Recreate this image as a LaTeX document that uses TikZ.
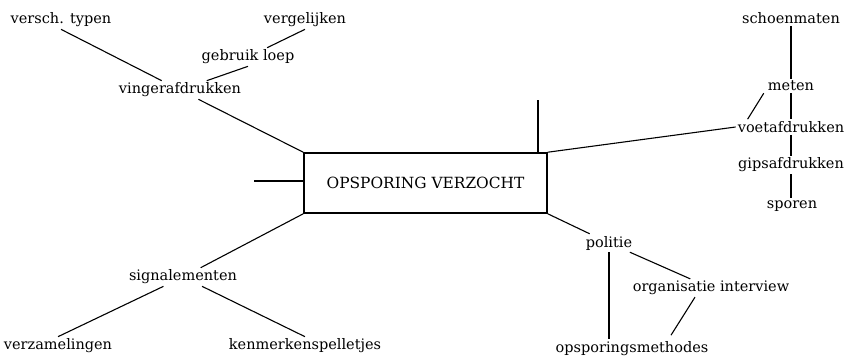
\documentclass[tikz,border=0pt]{standalone}
\usepackage{fontspec}
\setmainfont{DejaVu Serif}
\usepackage{tikz}
\usetikzlibrary{positioning}

\begin{document}
\begin{tikzpicture}[
    x=1pt, y=-1pt,
    topic/.style={rectangle, draw=black, line width=1.6pt, minimum width=243pt, minimum height=60pt, font=\fontsize{15.4}{17}\selectfont},
    item/.style={inner sep=2pt, font=\fontsize{14.5}{16}\selectfont},
    line/.style={line width=1.1pt, draw=black}
]
\useasboundingbox (0,0) rectangle (849,357);

% Centre
\node[topic] (opsporing) at (425.5,183) {OPSPORING VERZOCHT};
\coordinate (stubleft) at (254,181);
\coordinate (stubtop) at (538,100);

% Upper left branch
\node[item] (vinger) at (180,90) {vingerafdrukken};
\node[item] (versch) at (61,20) {versch. typen};
\node[item] (loep) at (248,57) {gebruik loep};
\node[item] (vergelijken) at (305,20) {vergelijken};

% Right branch
\node[item] (voet) at (791,127) {voetafdrukken};
\node[item] (schoen) at (791,18) {schoenmaten};
\node[item] (meten) at (791,86) {meten};
\node[item] (gips) at (791,165) {gipsafdrukken};
\node[item] (sporen) at (792,206) {sporen};

% Lower left branch
\node[item] (signal) at (183,277) {signalementen};
\node[item] (verzamel) at (58,346) {verzamelingen};
\node[item] (kenmerk) at (305,346) {kenmerkenspelletjes};

% Lower right branch
\node[item] (politie) at (609,243) {politie};
\node[item] (interview) at (711,288) {organisatie interview};
\node[item] (methodes) at (632,348.5) {opsporingsmethodes};

% Connections
\draw[line] (stubleft) -- (stubleft -| opsporing.west);
\draw[line] (stubtop) -- (stubtop |- opsporing.north);
\draw[line] (opsporing.north west) -- (vinger);
\draw[line] (versch.south) -- (vinger);
\draw[line] (loep.south) -- (vinger);
\draw[line] (vergelijken.south) -- (loep);
\draw[line] (opsporing.north east) -- (voet.west);
\draw[line] (schoen) -- (meten);
\draw[line] (meten) -- (voet);
\draw[line] ([xshift=-2pt]meten.south west) -- ([xshift=12pt]voet.north west);
\draw[line] (voet) -- (gips);
\draw[line] (gips) -- (sporen.north -| gips);
\draw[line] (opsporing.south west) -- (signal);
\draw[line] (signal) -- (verzamel.north);
\draw[line] (signal) -- (kenmerk.north);
\draw[line] (opsporing.south east) -- (politie);
\draw[line] (politie.south) -- (politie.south |- methodes.north);
\draw[line] (politie) -- (interview);
\draw[line] ([xshift=-16pt]interview.south) -- ([xshift=39pt,yshift=4pt]methodes.north);

\end{tikzpicture}
\end{document}
